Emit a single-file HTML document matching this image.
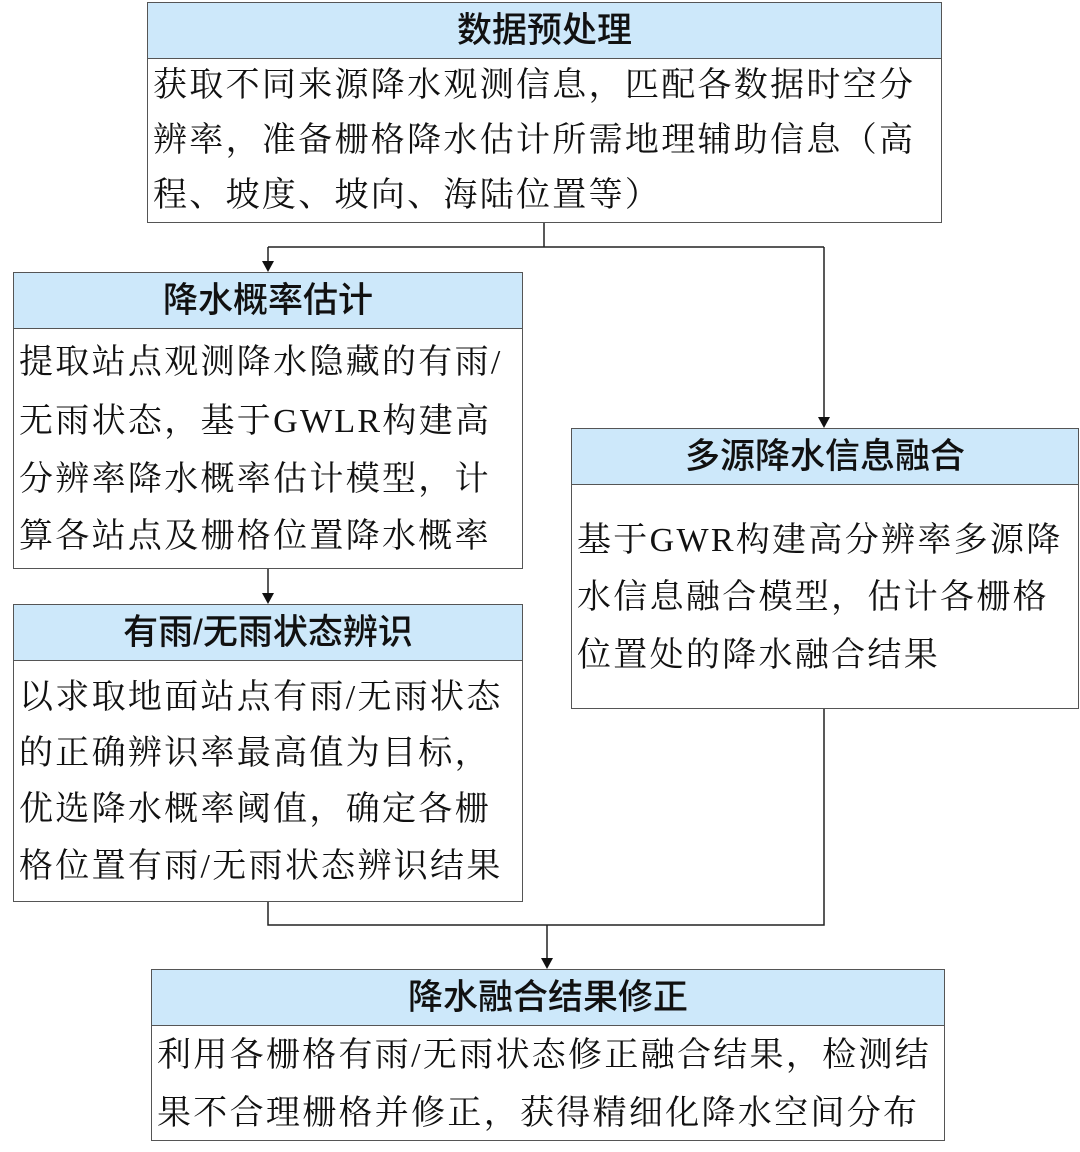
<!DOCTYPE html>
<html><head><meta charset="utf-8"><style>
body{margin:0;width:1080px;height:1152px;background:#fff;position:relative;overflow:hidden}
.b{position:absolute;border:1.5px solid #555;box-sizing:border-box;background:#fff}
.h{position:absolute;left:0;right:0;top:0;height:55px;background:#cde8fa;border-bottom:1.5px solid #555;text-align:center;font:500 35px/55px "Liberation Sans","Noto Sans CJK SC",sans-serif;color:#111}
.t{position:absolute;left:5px;font:34px/1 "Liberation Serif","Noto Serif CJK SC",serif;letter-spacing:2.3px;color:#111;white-space:nowrap}
svg{position:absolute;left:0;top:0}
</style></head><body>
<svg width="1080" height="1152">
<g stroke="#222" stroke-width="1.5" fill="none">
<path d="M544 222V247M268 247H824M268 247V262M824 247V418M268 568V594M268 901V925H824V708M547 925V959"/>
</g>
<g fill="#111">
<path d="M262 261L274 261L268 272Z"/>
<path d="M818 417L830 417L824 428Z"/>
<path d="M262 593L274 593L268 604Z"/>
<path d="M541 958L553 958L547 969Z"/>
</g>
</svg>
<div class="b" style="left:147px;top:2px;width:795px;height:221px"><div class="h">数据预处理</div>
<div class="t" style="top:66px">获取不同来源降水观测信息，匹配各数据时空分</div>
<div class="t" style="top:121px">辨率，准备栅格降水估计所需地理辅助信息（高</div>
<div class="t" style="top:176px">程、坡度、坡向、海陆位置等）</div></div>
<div class="b" style="left:13px;top:272px;width:510px;height:297px"><div class="h">降水概率估计</div>
<div class="t" style="top:73px">提取站点观测降水隐藏的有雨/</div>
<div class="t" style="top:132px">无雨状态，基于GWLR构建高</div>
<div class="t" style="top:190px">分辨率降水概率估计模型，计</div>
<div class="t" style="top:247px">算各站点及栅格位置降水概率</div></div>
<div class="b" style="left:13px;top:604px;width:510px;height:298px"><div class="h">有雨/无雨状态辨识</div>
<div class="t" style="top:76px">以求取地面站点有雨/无雨状态</div>
<div class="t" style="top:132px">的正确辨识率最高值为目标，</div>
<div class="t" style="top:188px">优选降水概率阈值，确定各栅</div>
<div class="t" style="top:245px">格位置有雨/无雨状态辨识结果</div></div>
<div class="b" style="left:571px;top:428px;width:508px;height:281px"><div class="h">多源降水信息融合</div>
<div class="t" style="top:95px">基于GWR构建高分辨率多源降</div>
<div class="t" style="top:152px">水信息融合模型，估计各栅格</div>
<div class="t" style="top:210px">位置处的降水融合结果</div></div>
<div class="b" style="left:151px;top:969px;width:794px;height:172px"><div class="h">降水融合结果修正</div>
<div class="t" style="top:69px">利用各栅格有雨/无雨状态修正融合结果，检测结</div>
<div class="t" style="top:127px">果不合理栅格并修正，获得精细化降水空间分布</div></div>
</body></html>
